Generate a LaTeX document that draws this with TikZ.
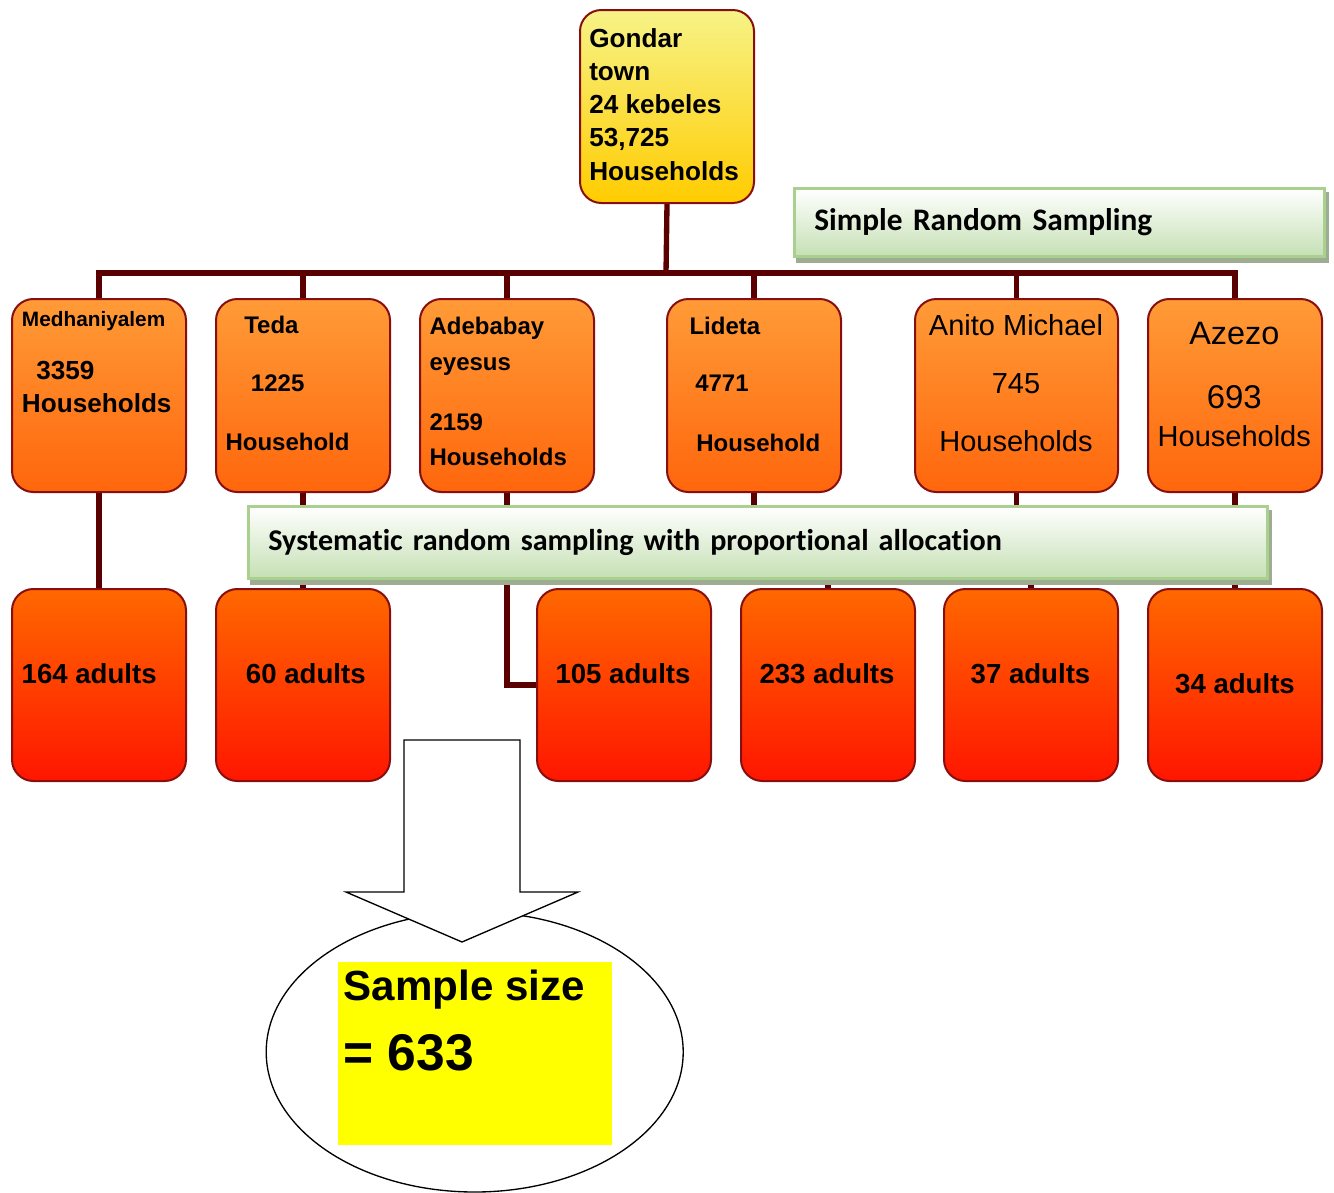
\documentclass[tikz,border=0pt]{standalone}
\usepackage{fontspec}
\setmainfont{Liberation Sans}
\newfontfamily\calibri[Ligatures=NoCommon]{Carlito}
\usetikzlibrary{shapes.geometric,backgrounds}

\definecolor{boxline}{RGB}{135,15,15}
\definecolor{linkred}{RGB}{90,0,0}
\definecolor{towntop}{RGB}{247,243,135}
\definecolor{townbot}{RGB}{255,204,0}
\definecolor{hhtop}{RGB}{255,155,55}
\definecolor{hhbot}{RGB}{255,102,12}
\definecolor{adtop}{RGB}{255,104,0}
\definecolor{adbot}{RGB}{255,22,0}
\definecolor{bannerline}{RGB}{169,208,142}
\definecolor{bannerbot}{RGB}{197,224,180}
\definecolor{bannershade}{RGB}{158,172,146}
\definecolor{hilite}{RGB}{255,255,0}

\tikzset{
  areabox/.style={draw=boxline, line width=1.5pt, rounded corners=16pt, anchor=north west, inner sep=0pt,
    minimum width=130.5pt, minimum height=144.75pt, top color=hhtop, bottom color=hhbot},
  townbox/.style={areabox, top color=towntop, bottom color=townbot},
  adultbox/.style={areabox, minimum height=144pt, top color=adtop, bottom color=adbot},
  banner/.style={draw=bannerline, line width=2pt, top color=white, bottom color=bannerbot, anchor=north west,
    inner xsep=15pt, inner ysep=0pt, align=left, font=\calibri\bfseries\fontsize{23.5}{28}\selectfont},
  link/.style={draw=linkred, line width=4pt},
  lbl/.style={inner sep=0pt, anchor=base west, font=\bfseries\fontsize{18}{22}\selectfont},
  clbl/.style={inner sep=0pt, anchor=base, font=\fontsize{21.75}{26}\selectfont},
  adlbl/.style={inner sep=0pt, anchor=base, font=\bfseries\fontsize{20.7}{25}\selectfont},
}

\begin{document}
\begin{tikzpicture}[x=0.75pt,y=0.75pt,yscale=-1,xscale=1]
\useasboundingbox (0,0) rectangle (1334,1192);

% town box
\node (town) [townbox] at (579,9) {};
\coordinate (hub) at (666,273);

% kebele boxes
\node (medh) [areabox] at (11,298) {};
\node (teda) [areabox] at (215,298) {};
\node (adeb) [areabox] at (419,298) {};
\node (lid) [areabox] at (666,298) {};
\node (anito) [areabox, minimum width=152.25pt] at (914,298) {};
\node (azezo) [areabox] at (1147,298) {};

% sample boxes
\node (a164) [adultbox] at (11,588) {};
\node (a60) [adultbox] at (215,588) {};
\node (a105) [adultbox] at (536,588) {};
\node (a233) [adultbox] at (740,588) {};
\node (a37) [adultbox] at (943,588) {};
\node (a34) [adultbox] at (1147,588) {};

% banners
\node (srs) [banner, minimum height=51pt, text width=367.5pt] at (793,187) {Simple Random Sampling};
\node (sys) [banner, minimum height=54pt, text width=734.25pt, font=\calibri\bfseries\fontsize{22.6}{27}\selectfont] at (247,505) {Systematic random sampling with proportional allocation};

% connectors
\begin{scope}[on background layer]
\draw [link] (town.south) -- (hub) ;
\draw [link] (hub) -| (medh.north) ;
\draw [link] (hub) -| (teda.north) ;
\draw [link] (hub) -| (adeb.north) ;
\draw [link] (hub) -| (lid.north) ;
\draw [link] (hub) -| (anito.north) ;
\draw [link] (hub) -| (azezo.north) ;
\draw [link] (medh.south) -- (a164.north) ;
\draw [link] (teda.south) -- (a60.north) ;
\draw [link] (adeb.south) |- (a105.west) ;
\draw [link] (lid.south) -- ++(0,40) -| (a233.north) ;
\draw [link] (anito.south) -- ++(0,40) -| (a37.north) ;
\draw [link] (azezo.south) -- (a34.north) ;
% banner shadows
\fill [bannershade] ([shift={(3,5)}]srs.north west) rectangle ([shift={(3,5)}]srs.south east) ;
\fill [bannershade] ([shift={(3,5)}]sys.north west) rectangle ([shift={(3,5)}]sys.south east) ;
\end{scope}

% Text Node
\node (townA) [lbl, font=\bfseries\fontsize{19.6}{24}\selectfont] at (589,47) {Gondar};
\node (townB) [lbl, font=\bfseries\fontsize{19.6}{24}\selectfont] at (589,80) {town};
\node (townC) [lbl, font=\bfseries\fontsize{19.6}{24}\selectfont] at (589,113) {24 kebeles};
\node (townD) [lbl, font=\bfseries\fontsize{19.6}{24}\selectfont] at (589,146) {53,725};
\node (townE) [lbl, font=\bfseries\fontsize{19.6}{24}\selectfont] at (589,180) {Households};
% Text Node
\node (medhA) [lbl, font=\bfseries\fontsize{15.6}{19}\selectfont] at (21.7,326.7) {Medhaniyalem};
\node (medhB) [lbl, font=\bfseries\fontsize{19.6}{24}\selectfont] at (36,379.3) {3359};
\node (medhC) [lbl, font=\bfseries\fontsize{19.6}{24}\selectfont] at (21.7,412.7) {Households};
% Text Node
\node (tedaA) [lbl] at (244,333.3) {Teda};
\node (tedaB) [lbl] at (250.7,391) {1225};
\node (tedaC) [lbl] at (225.3,450) {Household};
% Text Node
\node (adebA) [lbl] at (429.3,334.3) {Adebabay};
\node (adebB) [lbl] at (429.3,370) {eyesus};
\node (adebC) [lbl] at (429.3,430) {2159};
\node (adebD) [lbl] at (429.3,465) {Households};
% Text Node
\node (lidA) [lbl] at (689.3,334) {Lideta};
\node (lidB) [lbl] at (695,391.7) {4771};
\node (lidC) [lbl] at (696,451) {Household};
% Text Node
\node (anitoA) [clbl] at (1016,335) {Anito Michael};
\node (anitoB) [clbl] at (1016,393.3) {745};
\node (anitoC) [clbl] at (1016,451) {Households};
% Text Node
\node (azezoA) [clbl, font=\fontsize{24.3}{29}\selectfont] at (1234.3,344.3) {Azezo};
\node (azezoB) [clbl, font=\fontsize{24.7}{29}\selectfont] at (1234.3,408.3) {693};
\node (azezoC) [clbl] at (1234.3,446) {Households};
% Text Node
\node (t164) [adlbl] at (89.2,683.3) {164 adults};
\node (t60) [adlbl] at (305.8,683.3) {60 adults};
\node (t105) [adlbl] at (623,683.3) {105 adults};
\node (t233) [adlbl] at (827,683.3) {233 adults};
\node (t37) [adlbl] at (1030.5,683.3) {37 adults};
\node (t34) [adlbl] at (1235,693.3) {34 adults};

% sample size
\node (samp) [ellipse, draw, line width=1pt, fill=white, minimum width=312.75pt, minimum height=210pt, inner sep=0pt] at (474.7,1052) {};
\draw [line width=1pt, fill=white] (404,740) -- (520,740) -- (520,892) -- (578,892) -- (462,942) -- (346,892) -- (404,892) -- cycle ;
\node (ssz) [fill=hilite, anchor=north west, minimum width=205.5pt, minimum height=137.25pt, inner sep=0pt] at (338,962) {};
% Text Node
\node (sampA) [lbl, font=\bfseries\fontsize{31.6}{38}\selectfont] at (343.3,1000) {Sample size};
\node (sampB) [lbl, font=\bfseries\fontsize{38.7}{46}\selectfont] at (343.3,1070) {= 633};

\end{tikzpicture}
\end{document}
